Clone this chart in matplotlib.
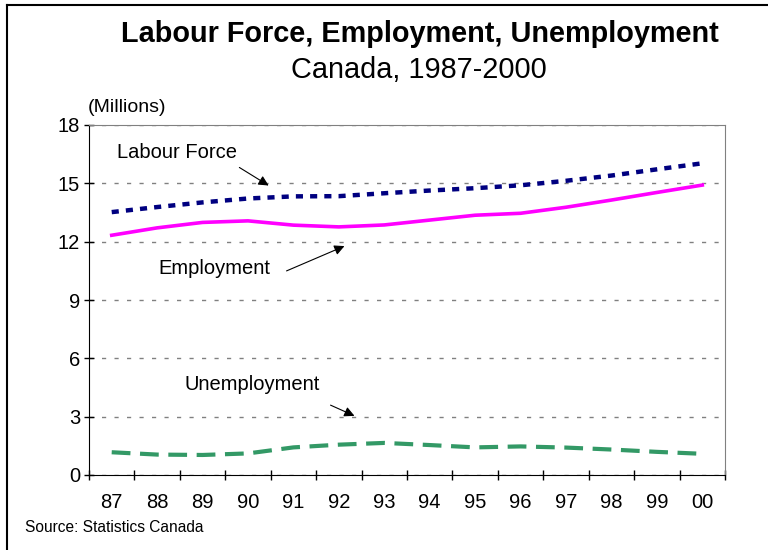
import matplotlib.pyplot as plt
from matplotlib.lines import Line2D

plt.rcParams['font.family'] = ['Liberation Sans', 'DejaVu Sans']

# Данные (миллионы человек)
years = ['87', '88', '89', '90', '91', '92', '93', '94', '95', '96', '97', '98', '99', '00']
labour_force = [13.52, 13.78, 14.02, 14.22, 14.33, 14.34, 14.49, 14.63, 14.75, 14.90, 15.13, 15.40, 15.72, 16.03]
employment = [12.33, 12.71, 12.99, 13.07, 12.85, 12.76, 12.86, 13.11, 13.36, 13.46, 13.77, 14.14, 14.53, 14.91]
unemployment = [1.17, 1.05, 1.03, 1.11, 1.42, 1.56, 1.65, 1.54, 1.42, 1.47, 1.41, 1.31, 1.19, 1.09]

W, H = 768, 550
fig = plt.figure(figsize=(W / 100, H / 100), dpi=100)
ax = fig.add_axes([89 / W, 1 - 475 / H, (725 - 89) / W, (475 - 125) / H])

x = range(len(years))
ax.plot(x, labour_force, color='#000080', lw=3.2, linestyle=(0, (1.6, 1.6)))
ax.plot(x, employment, color='#ff00ff', lw=2.6)
ax.plot(x, unemployment, color='#339966', lw=3.0, linestyle=(0, (4.5, 2.3)))

ax.set_xlim(-0.5, len(years) - 0.5)
ax.set_ylim(0, 18)
ax.set_yticks(range(0, 19, 3))
ax.set_xticks([i - 0.5 for i in range(len(years) + 1)], minor=False)
ax.set_xticklabels([])
ax.set_xticks(list(x), minor=True)
ax.set_xticklabels(years, minor=True)
ax.tick_params(axis='x', which='major', length=7, direction='inout', width=1)
ax.tick_params(axis='x', which='minor', length=0, pad=13, labelsize=14.5)
ax.tick_params(axis='y', length=7, direction='inout', width=1, labelsize=14.5, pad=3)
ax.yaxis.grid(True, color='#808080', linestyle=(0, (3, 6)), lw=1)
ax.set_axisbelow(True)
for s in ['top', 'right']:
    ax.spines[s].set_color('#808080')
for s in ['left', 'bottom']:
    ax.spines[s].set_color('black')


def px(xp, yp):
    return (xp / W, 1 - yp / H)


arrow = dict(arrowstyle='-|>', color='black', lw=0.8, mutation_scale=15)
fig.text(*px(117, 152), 'Labour Force', fontsize=14.5, va='center')
ax.annotate('', xy=px(271, 187), xytext=px(237, 166), xycoords='figure fraction',
            textcoords='figure fraction', arrowprops=arrow)
fig.text(*px(158, 268), 'Employment', fontsize=14.5, va='center')
ax.annotate('', xy=px(347, 245), xytext=px(284, 272), xycoords='figure fraction',
            textcoords='figure fraction', arrowprops=arrow)
fig.text(*px(185, 384), 'Unemployment', fontsize=14.5, va='center')
ax.annotate('', xy=px(357, 417), xytext=px(328, 404), xycoords='figure fraction',
            textcoords='figure fraction', arrowprops=arrow)

# Заголовки и подписи
fig.text(*px(420, 34), 'Labour Force, Employment, Unemployment', fontsize=20.8,
         fontweight='bold', ha='center', va='center')
fig.text(*px(419, 70), 'Canada, 1987-2000', fontsize=20.8, ha='center', va='center')
fig.text(*px(88, 107), '(Millions)', fontsize=14, va='center')
fig.text(*px(25, 527), 'Source: Statistics Canada', fontsize=11.2, va='center')

# Рамка
fig.add_artist(Line2D([7 / W, 1], [1 - 5 / H, 1 - 5 / H], color='black', lw=1.5))
fig.add_artist(Line2D([7 / W, 7 / W], [0, 1 - 5 / H], color='black', lw=1.5))

plt.savefig('out.png', dpi=100)
